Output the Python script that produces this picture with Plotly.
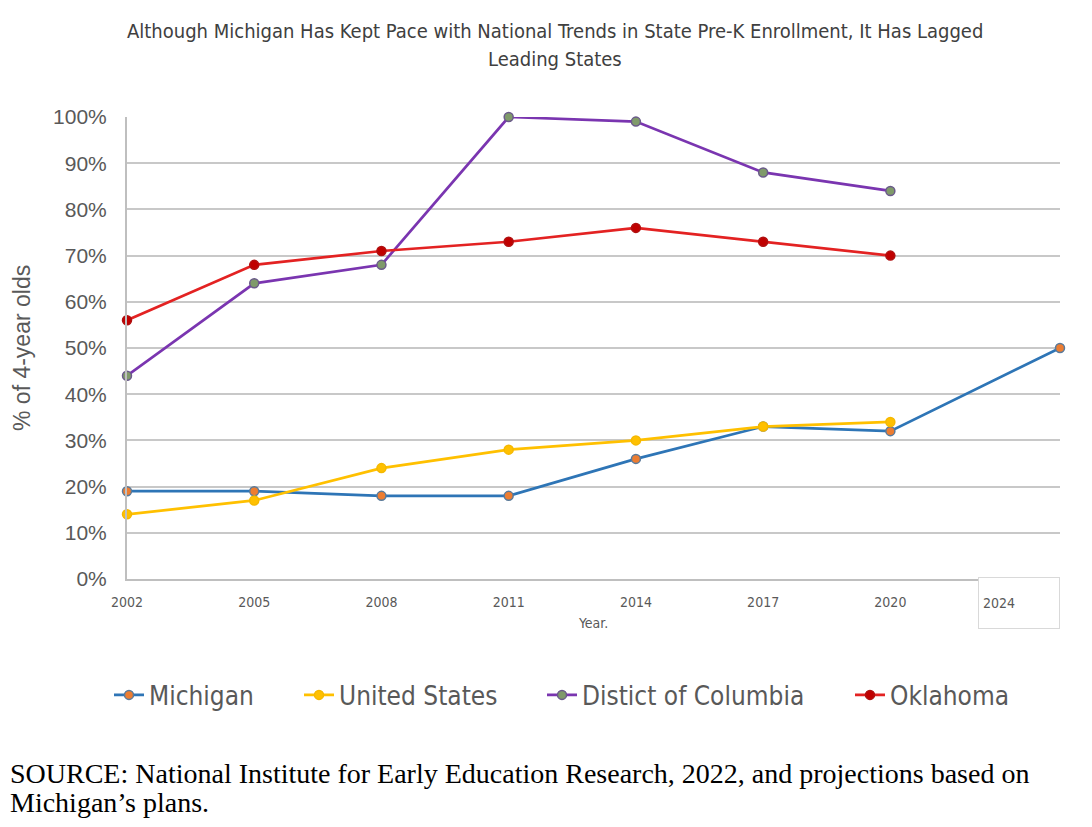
import plotly.graph_objects as go

years = [2002, 2005, 2008, 2011, 2014, 2017, 2020]
mi_years = [2002, 2005, 2008, 2011, 2014, 2017, 2020, 2024]
michigan = [19, 19, 18, 18, 26, 33, 32, 50]
united_states = [14, 17, 24, 28, 30, 33, 34]
dc = [44, 64, 68, 100, 99, 88, 84]
oklahoma = [56, 68, 71, 73, 76, 73, 70]
tick_years = [2002, 2005, 2008, 2011, 2014, 2017, 2020]
y_ticks = [0, 10, 20, 30, 40, 50, 60, 70, 80, 90, 100]

COND = "DejaVu Sans Condensed, Liberation Sans Narrow, Roboto Condensed, Arial Narrow, sans-serif"
SANS = "Liberation Sans, Arial, sans-serif"
SERIF = "Liberation Serif, Times New Roman, serif"
GRAY = "#595959"

# page body has an 8px margin; work in reference pixel coords and offset
OFF = 8
W, H = 1092 - 2 * OFF, 827 - 2 * OFF
L = 127 - OFF
T = 117 - OFF
PW = 1060 - 127
PH = 579 - 117
R = W - L - PW
B = H - T - PH


def px_x(px):
    return (px - OFF - L) / PW


def px_y(py):
    return (T + PH - (py - OFF)) / PH


fig = go.Figure()


def add(name, x, y, line_color, fill, outline, legend):
    fig.add_trace(go.Scatter(
        x=x, y=y, name=name, mode="lines+markers",
        line=dict(color=line_color, width=2.7),
        marker=dict(size=9, color=fill, line=dict(color=outline, width=1.5)),
        cliponaxis=False, legend=legend,
    ))


add("Michigan", mi_years, michigan, "#2E75B6", "#ED7D31", "#5A7A9A", "legend")
add("United States", years, united_states, "#FFC000", "#FFC000", "#F5B800", "legend2")
add("Distict of Columbia", years, dc, "#7A35B0", "#7F9A6A", "#6A5A8A", "legend3")
add("Oklahoma", years, oklahoma, "#E32222", "#C00000", "#B01010", "legend4")

leg_font = dict(family=COND, size=26, color=GRAY)


def leg(xpx):
    return dict(orientation="h", x=px_x(xpx), xanchor="left", y=px_y(695), yanchor="middle",
                font=leg_font, itemwidth=30, bgcolor="rgba(0,0,0,0)")


fig.update_layout(
    width=W, height=H,
    margin=dict(l=L, r=R, t=T, b=B, autoexpand=False),
    paper_bgcolor="white", plot_bgcolor="white",
    showlegend=True,
    legend=leg(109), legend2=leg(299), legend3=leg(542), legend4=leg(850),
    xaxis=dict(
        range=[2002, 2024], tickmode="array", tickvals=tick_years,
        ticktext=[str(t) for t in tick_years],
        showgrid=False, zeroline=False, showline=True, linecolor="#BFBFBF", linewidth=2,
        ticks="", tickfont=dict(family=COND, size=14, color=GRAY),
        ticklabelstandoff=9,
    ),
    yaxis=dict(
        range=[0, 100], tickmode="array", tickvals=y_ticks,
        ticktext=[f"{v}%" for v in y_ticks],
        showgrid=True, gridcolor="#C8C8C8", gridwidth=1.8,
        zeroline=False, showline=True, linecolor="#BFBFBF", linewidth=2,
        ticks="", ticklen=0,
        tickfont=dict(family=SANS, size=21, color=GRAY),
        ticklabelstandoff=14,
    ),
)

# title
fig.add_annotation(
    text="Although Michigan Has Kept Pace with National Trends in State Pre-K Enrollment, It Has Lagged",
    xref="paper", yref="paper", x=px_x(555), y=px_y(31), xanchor="center", yanchor="middle",
    showarrow=False, font=dict(family=COND, size=20, color="#404040"),
)
fig.add_annotation(
    text="Leading States",
    xref="paper", yref="paper", x=px_x(555), y=px_y(59), xanchor="center", yanchor="middle",
    showarrow=False, font=dict(family=COND, size=20, color="#404040"),
)

# y axis title
fig.add_annotation(
    text="% of 4-year olds", textangle=-90,
    xref="paper", yref="paper", x=px_x(22), y=px_y(348), xanchor="center", yanchor="middle",
    showarrow=False, font=dict(family=SANS, size=23, color=GRAY),
)

# x axis title
fig.add_annotation(
    text="Year.",
    xref="paper", yref="paper", x=px_x(593), y=px_y(623), xanchor="center", yanchor="middle",
    showarrow=False, font=dict(family=COND, size=14, color=GRAY),
)

# 2024 boxed label
fig.add_annotation(
    text="2024", xref="paper", yref="paper", x=px_x(978), y=px_y(577), xanchor="left", yanchor="top",
    showarrow=False, align="left", width=72, height=42, valign="middle", borderpad=4,
    bordercolor="#D9D9D9", borderwidth=1, bgcolor="white",
    font=dict(family=COND, size=14, color=GRAY),
)

# source
fig.add_annotation(
    text="SOURCE: National Institute for Early Education Research, 2022, and projections based on",
    xref="paper", yref="paper", x=px_x(8), y=px_y(773), xanchor="left", yanchor="middle",
    showarrow=False, align="left", font=dict(family=SERIF, size=28, color="black"),
)
fig.add_annotation(
    text="Michigan’s plans.",
    xref="paper", yref="paper", x=px_x(8), y=px_y(802), xanchor="left", yanchor="middle",
    showarrow=False, align="left", font=dict(family=SERIF, size=28, color="black"),
)

fig.write_html("out.html")
